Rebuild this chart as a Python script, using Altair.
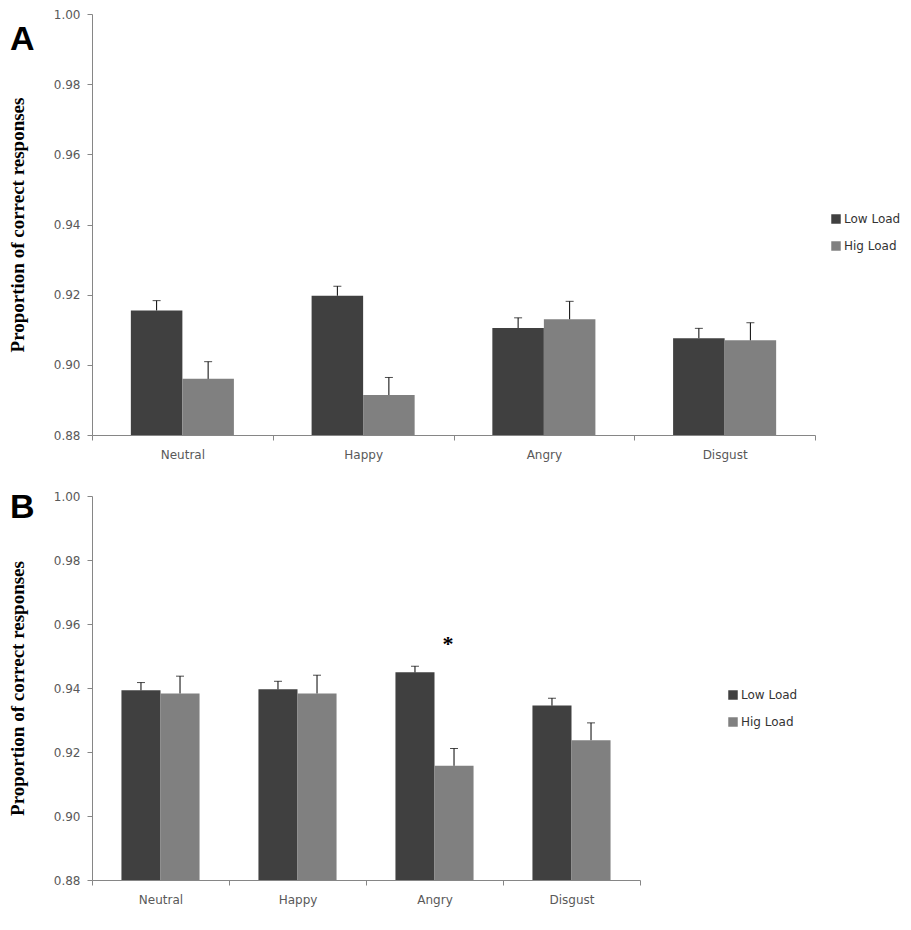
import altair as alt
import pandas as pd

categories = ["Neutral", "Happy", "Angry", "Disgust"]
groups = ["Low Load", "Hig Load"]
colors = ["#404040", "#808080"]

# Panel A
a_low = [0.9155, 0.9197, 0.9105, 0.9076]
a_low_se = [0.0028, 0.0027, 0.0029, 0.0028]
a_high = [0.8960, 0.8914, 0.9130, 0.9070]
a_high_se = [0.0049, 0.0050, 0.0051, 0.0050]

# Panel B
b_low = [0.9393, 0.9396, 0.9449, 0.9345]
b_low_se = [0.0024, 0.0025, 0.0019, 0.0023]
b_high = [0.9383, 0.9383, 0.9157, 0.9237]
b_high_se = [0.0054, 0.0057, 0.0054, 0.0054]

y_ticks = [0.88, 0.90, 0.92, 0.94, 0.96, 0.98, 1.00]
y_domain = [0.88, 1.00]
y_title = "Proportion of correct responses"

star_cat = "Angry"
star_grp = "Hig Load"
star_val = 0.9538


def frame(low, low_se, high, high_se):
    rows = []
    for i, c in enumerate(categories):
        rows.append({"cat": c, "grp": groups[0], "val": low[i], "top": low[i] + low_se[i]})
        rows.append({"cat": c, "grp": groups[1], "val": high[i], "top": high[i] + high_se[i]})
    return pd.DataFrame(rows)


def panel(df, w, h, label, label_y, legend_x, legend_y, star=False):
    base = alt.Chart(df)
    x_enc = alt.X(
        "cat:N",
        sort=categories,
        scale=alt.Scale(paddingInner=0, paddingOuter=0),
        axis=alt.Axis(
            title=None,
            labelAngle=0,
            tickBand="extent",
            tickSize=5,
            tickColor="#868686",
            domainColor="#868686",
            labelFont="DejaVu Sans",
            labelFontSize=12,
            labelColor="#595959",
            labelPadding=9,
        ),
    )
    xo_enc = alt.XOffset(
        "grp:N", sort=groups, scale=alt.Scale(paddingOuter=0.754, paddingInner=0)
    )
    y_enc = alt.Y(
        "val:Q",
        scale=alt.Scale(domain=y_domain, zero=False, nice=False),
        axis=alt.Axis(
            values=y_ticks,
            format=".2f",
            title=y_title,
            grid=False,
            tickSize=5,
            tickColor="#868686",
            domainColor="#868686",
            labelFont="DejaVu Sans",
            labelFontSize=12,
            labelColor="#595959",
            labelPadding=7,
            titleFont="Liberation Serif",
            titleFontSize=19,
            titleFontWeight="bold",
            titleColor="#000000",
            titlePadding=26,
        ),
    )
    color_enc = alt.Color(
        "grp:N",
        sort=groups,
        title=None,
        scale=alt.Scale(domain=groups, range=colors),
        legend=alt.Legend(
            orient="none",
            legendX=legend_x,
            legendY=legend_y,
            symbolType="square",
            symbolSize=90,
            symbolStrokeWidth=0,
            labelFont="DejaVu Sans",
            labelFontSize=12,
            labelColor="#333333",
            labelOffset=2,
            rowPadding=15,
            padding=0,
        ),
    )
    bars = base.mark_bar().encode(
        x=x_enc, xOffset=xo_enc, y=y_enc, y2=alt.datum(0.88), color=color_enc
    )
    err = base.mark_rule(color="black", strokeWidth=1).encode(
        x=alt.X("cat:N", sort=categories),
        xOffset=alt.XOffset("grp:N", sort=groups),
        y="val:Q",
        y2="top:Q",
    )
    cap = base.mark_tick(color="black", thickness=1, size=8, orient="horizontal").encode(
        x=alt.X("cat:N", sort=categories),
        xOffset=alt.XOffset("grp:N", sort=groups),
        y="top:Q",
    )
    lab = alt.Chart(pd.DataFrame({"t": [label]})).mark_text(
        font="Liberation Sans",
        fontSize=34,
        fontWeight="bold",
        align="left",
        baseline="alphabetic",
        color="#000000",
    ).encode(text="t:N", x=alt.value(-82), y=alt.value(label_y))
    layers = [bars, err, cap, lab]
    if star:
        sdf = pd.DataFrame({"cat": [star_cat], "grp": [star_grp], "val": [star_val], "t": ["*"]})
        st = alt.Chart(sdf).mark_text(
            font="Liberation Serif", fontSize=22, fontWeight="bold", dx=-6, baseline="middle"
        ).encode(
            x=alt.X("cat:N", sort=categories),
            xOffset=alt.XOffset("grp:N", sort=groups),
            y="val:Q",
            text="t:N",
        )
        layers.append(st)
    return alt.layer(*layers).properties(width=w, height=h)


pa = panel(frame(a_low, a_low_se, a_high, a_high_se), 723, 421, "A", 36, 738, 199)
pb = panel(frame(b_low, b_low_se, b_high, b_high_se), 548, 384, "B", 22, 635, 193, star=True)

chart = (
    alt.vconcat(pa, pb, spacing=30)
    .resolve_scale(x="independent", xOffset="independent", y="independent", color="independent")
    .resolve_legend(color="independent")
    .properties(padding={"left": 0, "top": 0, "right": 0, "bottom": 6})
    .configure_view(strokeWidth=0)
)

chart.save("out.html", embed_options={"renderer": "svg", "actions": False})
